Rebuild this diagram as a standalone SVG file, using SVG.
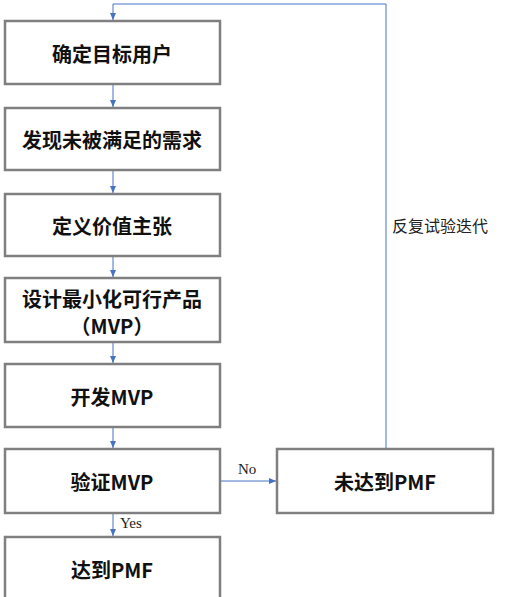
<svg xmlns="http://www.w3.org/2000/svg" width="510" height="597" viewBox="0 0 510 597">
<style>
.box{fill:#fff;stroke:#7f7f7f;stroke-width:2.5}
.t{font-family:"Noto Sans CJK SC","Liberation Sans",sans-serif;font-size:20px;font-weight:bold;fill:#111;text-anchor:middle;dominant-baseline:central}
.c{fill:none;stroke:#4472c4;stroke-width:1}
.lbl{font-family:"Liberation Serif",serif;font-size:15px;fill:#222}
.side{font-family:"Noto Sans CJK SC",sans-serif;font-size:16px;fill:#222}
</style>
<defs>
<marker id="a" markerWidth="8" markerHeight="8" refX="7" refY="4" orient="auto" markerUnits="userSpaceOnUse">
<path d="M0,1 L7,4 L0,7 z" fill="#4472c4"/>
</marker>
</defs>
<rect width="510" height="597" fill="#fff"/>
<g id="connectors">
<path class="c" d="M113,84 V107" marker-end="url(#a)"/>
<path class="c" d="M113,170 V193" marker-end="url(#a)"/>
<path class="c" d="M113,256 V277" marker-end="url(#a)"/>
<path class="c" d="M113,342 V363" marker-end="url(#a)"/>
<path class="c" d="M113,427 V448" marker-end="url(#a)"/>
<path class="c" d="M113,513 V536" marker-end="url(#a)"/>
<path class="c" d="M220,481 H276" marker-end="url(#a)"/>
<path class="c" d="M386,449 V4 H113 V20" marker-end="url(#a)"/>
<text class="lbl" x="238" y="474">No</text>
<text class="lbl" x="120" y="528">Yes</text>
<text class="side" x="392" y="232">反复试验迭代</text>
</g>
<g id="n1"><rect class="box" x="5" y="21" width="215" height="63"/><text class="t" x="112" y="53">确定目标用户</text></g>
<g id="n2"><rect class="box" x="5" y="108" width="215" height="62"/><text class="t" x="112" y="139">发现未被满足的需求</text></g>
<g id="n3"><rect class="box" x="5" y="194" width="215" height="62"/><text class="t" x="112" y="225">定义价值主张</text></g>
<g id="n4"><rect class="box" x="5" y="278" width="215" height="64"/><text class="t" x="112" y="298">设计最小化可行产品</text><text class="t" x="112" y="325">（MVP）</text></g>
<g id="n5"><rect class="box" x="5" y="364" width="215" height="63"/><text class="t" x="112" y="396">开发MVP</text></g>
<g id="n6"><rect class="box" x="5" y="449" width="215" height="64"/><text class="t" x="112" y="481">验证MVP</text></g>
<g id="n7"><rect class="box" x="5" y="537" width="215" height="70"/><text class="t" x="112" y="569">达到PMF</text></g>
<g id="n8"><rect class="box" x="277" y="449" width="216" height="64"/><text class="t" x="385" y="481">未达到PMF</text></g>
</svg>
